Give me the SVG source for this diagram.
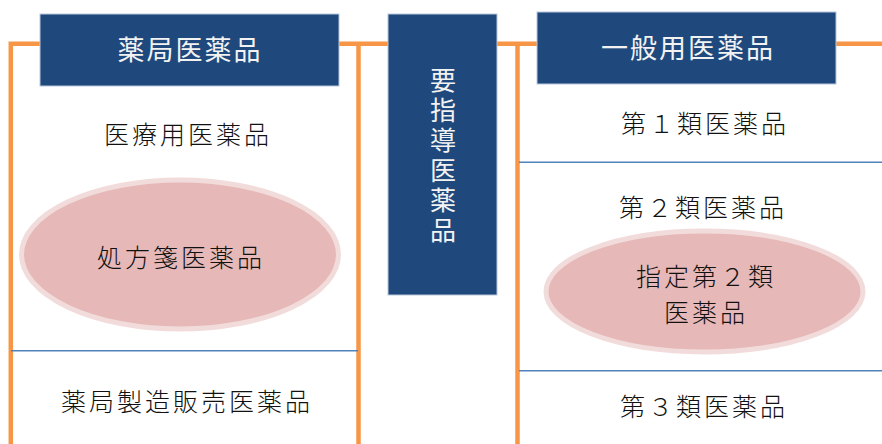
<svg xmlns="http://www.w3.org/2000/svg" width="882" height="444" viewBox="0 0 882 444">
<style>
.frame{stroke:#f79646;stroke-width:4.5;fill:none}
.div{stroke:#4f81bd;stroke-width:1.5;fill:none}
.hdr{fill:#1f497d;stroke:#b9c7dc;stroke-width:1}
.hdrt{fill:#f2f2f2;font-family:"Noto Sans CJK JP",sans-serif;font-size:27px;letter-spacing:2px;text-anchor:middle}
.vt{fill:#f2f2f2;font-family:"Noto Sans CJK JP",sans-serif;font-size:26px;letter-spacing:4px;writing-mode:vertical-rl}
.body{fill:#111;font-family:"Noto Sans CJK JP",sans-serif;font-size:25px;font-weight:300;letter-spacing:3px;text-anchor:middle}
.ell{fill:#e6b8b7;stroke:#f2dcdb;stroke-width:5}
</style>
<rect width="882" height="444" fill="#fff"/>
<g id="connectors">
<path class="frame" d="M10.8,444 V43.7 H882"/>
<path class="frame" d="M358.5,43.7 V444"/>
<path class="frame" d="M517.5,43.7 V444"/>
<path class="div" d="M11,350.7 H358"/>
<path class="div" d="M519,162.3 H882"/>
<path class="div" d="M519,370.7 H882"/>
</g>
<g id="pharmacy-drugs">
<rect class="hdr" x="40" y="14" width="299" height="72"/>
<text class="hdrt" x="190" y="60">薬局医薬品</text>
</g>
<g id="ethical-drugs">
<text class="body" x="188" y="144">医療用医薬品</text>
</g>
<g id="prescription-drugs">
<ellipse class="ell" cx="180" cy="254.5" rx="158.5" ry="74.5"/>
<text class="body" x="181" y="267">処方箋医薬品</text>
</g>
<g id="pharmacy-manufactured">
<text class="body" x="187" y="411">薬局製造販売医薬品</text>
</g>
<g id="guidance-required">
<rect class="hdr" x="388" y="14" width="109" height="281"/>
<text class="vt" x="443" y="67">要指導医薬品</text>
</g>
<g id="otc-drugs">
<rect class="hdr" x="537" y="12" width="299" height="72"/>
<text class="hdrt" x="688" y="58">一般用医薬品</text>
</g>
<g id="class1">
<text class="body" x="705" y="133">第１類医薬品</text>
</g>
<g id="class2">
<text class="body" x="703" y="217">第２類医薬品</text>
</g>
<g id="designated-class2">
<ellipse class="ell" cx="704.5" cy="291.5" rx="158.5" ry="60.5"/>
<text class="body" x="706" y="286">指定第２類</text>
<text class="body" x="706" y="322">医薬品</text>
</g>
<g id="class3">
<text class="body" x="704" y="416">第３類医薬品</text>
</g>
</svg>
